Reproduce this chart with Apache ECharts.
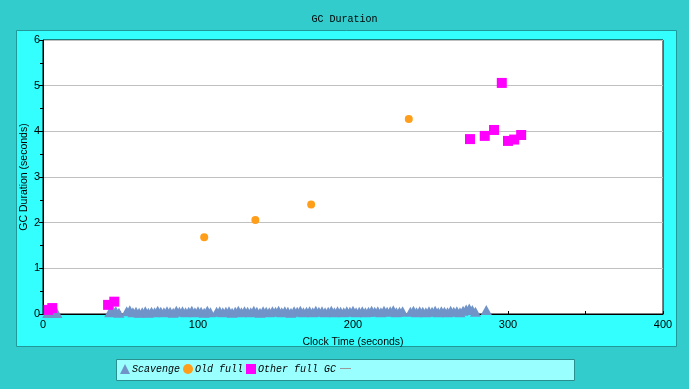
<!DOCTYPE html>
<html><head><meta charset="utf-8">
<script src="https://cdn.jsdelivr.net/npm/echarts@6/dist/echarts.min.js"></script>
<style>html,body{margin:0;padding:0;background:#33CCCC;}#c{width:689px;height:389px;}</style>
</head><body><div id="c"></div>
<script>
const titleText = 'GC Duration';
const xTicks = [0, 100, 200, 300, 400];
const seriesNames = ['Scavenge', 'Old full', 'Other full GC'];
const scavenge = [[3,.02],[5,.04],[7,.03],[9,.02],[43,.04],[45,.09],[47,.06],[49,.03],
[54,.06],[56,.08],[58,.04],[60,.05],[62,.03],[64,.04],[66,.06],[68,.03],[70,.05],[72,.04],[74,.07],[76,.05],[78,.04],[80,.06],[82,.05],[84,.03],[86,.07],[88,.05],[90,.06],[92,.04],[94,.05],[96,.07],[98,.04],[100,.06],[102,.05],[104,.03],[106,.07],[108,.04],
[112,.05],[114,.06],[116,.04],[118,.05],[120,.06],[122,.03],[124,.05],[126,.07],[128,.04],[130,.06],[132,.05],[134,.04],[136,.07],[138,.05],[140,.03],[142,.06],[144,.05],[146,.04],[148,.06],[150,.05],[152,.07],[154,.04],[156,.06],[158,.05],[160,.03],[162,.06],[164,.05],[166,.07],[168,.04],[170,.05],[172,.06],[174,.04],[176,.07],[178,.05],[180,.06],[182,.04],[184,.05],[186,.07],[188,.04],[190,.06],[192,.05],[194,.04],[196,.06],[198,.05],[200,.07],[202,.04],[204,.05],[206,.06],[208,.04],[210,.05],[212,.07],[214,.05],[216,.06],[218,.04],[220,.07],[222,.05],[224,.06],[226,.08],[228,.04],[230,.05],[232,.06],
[237,.05],[239,.07],[241,.04],[243,.06],[245,.05],[247,.04],[249,.06],[251,.05],[253,.07],[255,.04],[257,.06],[259,.05],[261,.04],[263,.07],[265,.05],[267,.06],[269,.04],[271,.07],[273,.1],[275,.12],[277,.09],[279,.05],[286,.09]];
const oldFull = [[104,1.68],[137,2.06],[173,2.4],[236,4.27]];
const otherFull = [[3.5,0.09],[6,0.13],[42,0.2],[46,0.27],[275.5,3.83],[285,3.9],[291,4.03],[296,5.06],[300,3.79],[304,3.82],[308.5,3.92]];

const chart = echarts.init(document.getElementById('c'));
chart.setOption({
  backgroundColor: '#33CCCC',
  animation: false,
  title: { text: titleText, left: 'center', top: 9, textStyle: { fontFamily: 'Liberation Mono', fontSize: 10, fontWeight: 'normal', color: '#000' } },
  graphic: [
    { type: 'rect', z: -10, shape: { x: 16.5, y: 30.5, width: 660, height: 316 }, style: { fill: '#33FFFF', stroke: '#229999', lineWidth: 1 } },
    { type: 'rect', z: -10, shape: { x: 116.5, y: 359.5, width: 458, height: 21 }, style: { fill: '#99FFFF', stroke: '#2a8f8f', lineWidth: 1 } },
    { type: 'line', shape: { x1: 340, y1: 368.5, x2: 351, y2: 368.5 }, style: { stroke: '#999', lineWidth: 1 } }
  ],
  legend: {
    left: 120, top: 364, itemGap: 3, itemWidth: 10, itemHeight: 10, padding: 0,
    data: [
      { name: seriesNames[0], icon: 'triangle' },
      { name: seriesNames[1], icon: 'circle' },
      { name: seriesNames[2], icon: 'rect' }
    ],
    textStyle: { fontFamily: 'Liberation Mono', fontStyle: 'italic', fontSize: 10, color: '#000', padding: [0, 0, 0, -3] }
  },
  grid: { left: 43, top: 40, right: 26, bottom: 75, show: true, backgroundColor: '#fff', borderColor: '#000', borderWidth: 1 },
  xAxis: {
    type: 'value', min: 0, max: 400, interval: 50,
    name: 'Clock Time (seconds)', nameLocation: 'middle', nameGap: 23, nameMoveOverlap: false,
    nameTextStyle: { fontFamily: 'Liberation Sans', fontSize: 10.5, color: '#000' },
    axisLine: { lineStyle: { color: '#000' } },
    axisTick: { inside: true, length: 3, lineStyle: { color: '#000' } },
    axisLabel: { color: '#000', fontFamily: 'Liberation Sans', fontSize: 11, margin: 5, formatter: v => xTicks.indexOf(v) >= 0 ? String(v) : '' },
    splitLine: { show: false }
  },
  yAxis: {
    type: 'value', min: 0, max: 6, interval: 1,
    name: 'GC Duration (seconds)', nameLocation: 'middle', nameGap: 13, nameMoveOverlap: false,
    nameTextStyle: { fontFamily: 'Liberation Sans', fontSize: 10.5, color: '#000' },
    axisLine: { lineStyle: { color: '#000' } },
    axisTick: { length: 4, lineStyle: { color: '#000' } },
    minorTick: { show: true, splitNumber: 2, length: 3, lineStyle: { color: '#000' } },
    axisLabel: { color: '#000', fontFamily: 'Liberation Sans', fontSize: 11, margin: 3 },
    splitLine: { lineStyle: { color: '#c0c0c0' } }
  },
  series: [
    { name: seriesNames[0], type: 'scatter', symbol: 'triangle', symbolSize: [11, 10], clip: false, data: scavenge, itemStyle: { color: '#7093C8', opacity: 1 } },
    { name: seriesNames[1], type: 'scatter', symbol: 'circle', symbolSize: 8, data: oldFull, itemStyle: { color: '#FF9E1A', opacity: 1 } },
    { name: seriesNames[2], type: 'scatter', symbol: 'rect', symbolSize: 10, data: otherFull, itemStyle: { color: '#FF00FF', opacity: 1 } }
  ]
});
</script></body></html>
